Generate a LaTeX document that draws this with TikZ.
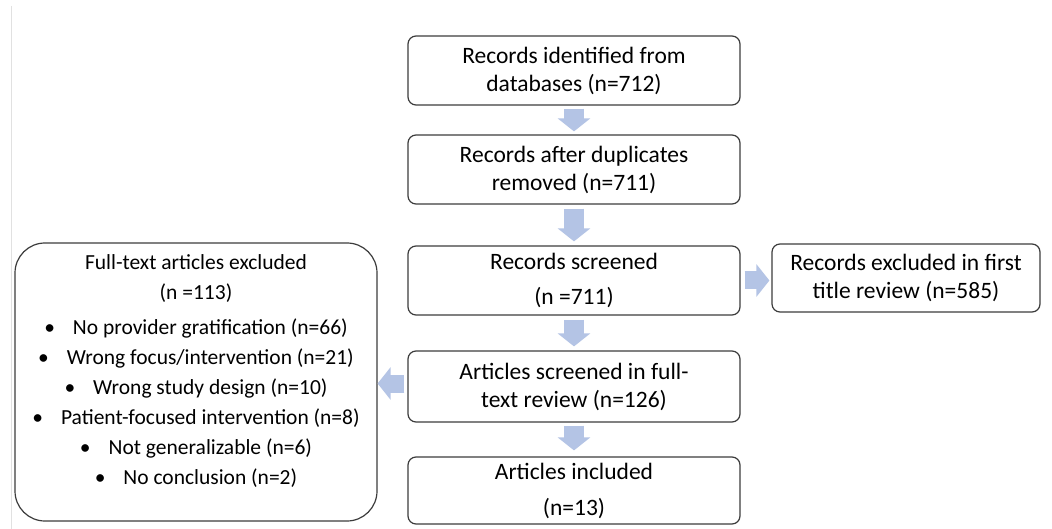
\documentclass[tikz,border=0pt]{standalone}
\usepackage{fontspec}
\setmainfont{Carlito}
\usetikzlibrary{arrows.meta,calc}
\definecolor{arrowblue}{RGB}{180,196,229}
\definecolor{boxline}{RGB}{60,60,60}
\definecolor{edgegray}{RGB}{225,225,225}
\tikzset{
  box/.style={draw=boxline, line width=1.2pt, rounded corners=8pt, fill=white,
    inner sep=0pt, align=center, font=\fontsize{23.5}{28}\selectfont},
  bigbox/.style={draw=boxline, line width=1.2pt, rounded corners=30pt, fill=white, inner sep=0pt},
  btext/.style={inner sep=0pt, align=center, font=\fontsize{21.5}{30}\selectfont},
  blockdown/.style={draw=arrowblue, line width=20pt,
    -{Triangle[length=13pt 0,width=32pt 0]}, shorten <=4pt, shorten >=4pt},
  blockside/.style={draw=arrowblue, line width=18pt,
    -{Triangle[length=13pt 0,width=32pt 0]}}
}
\begin{document}
\begin{tikzpicture}[x=1pt,y=-1pt]
\useasboundingbox (0,0) rectangle (1052,529);
\fill[white] (0,0) rectangle (1052,529);
\draw[edgegray, line width=1pt] (11,6) -- (11,529);

\node[box, minimum width=332pt, minimum height=69pt] (b1) at (574,70.5)
  {Records identified from\\databases (n=712)};
\node[box, minimum width=332pt, minimum height=69pt] (b2) at (574,169.5)
  {Records after duplicates\\removed (n=711)};
\node[box, minimum width=332pt, minimum height=69pt, font=\fontsize{23.5}{35}\selectfont] (b3) at (574,280.5)
  {Records screened\\(n =711)};
\node[box, minimum width=332pt, minimum height=71pt] (b4) at (574,386.5)
  {Articles screened in full-\\text review (n=126)};
\node[box, minimum width=332pt, minimum height=67pt, font=\fontsize{23.5}{36}\selectfont] (b5) at (574,490.5)
  {Articles included\\(n=13)};
\node[box, minimum width=268pt, minimum height=68pt] (rb) at (906,278)
  {Records excluded in first\\title review (n=585)};
\node[bigbox, minimum width=362pt, minimum height=278pt] (lb) at (196,382) {};
\node[btext] (lbt) at (196,371)
  {Full-text articles excluded\\
   (n =113)\\[5pt]
   •\hspace{18pt}No provider gratification (n=66)\\
   •\hspace{18pt}Wrong focus/intervention (n=21)\\
   •\hspace{18pt}Wrong study design (n=10)\\
   •\hspace{18pt}Patient-focused intervention (n=8)\\
   •\hspace{18pt}Not generalizable (n=6)\\
   •\hspace{18pt}No conclusion (n=2)};

\draw[blockdown, shorten <=3pt, shorten >=3pt] (b1.south) -- (b2.north);
\draw[blockdown] (b2.south) -- (b3.north);
\draw[blockdown] (b3.south) -- (b4.north);
\draw[blockdown, shorten <=3pt, shorten >=6pt] (b4.south) -- (b5.north);
\draw[blockside, shorten <=4pt, shorten >=2pt] (b3.east) -- (b3.east -| rb.west);
\draw[blockside, shorten <=3pt, shorten >=0pt] ($(b4.west)+(0,-3)$) -- ($(b4.west -| lb.east)+(0,-3)$);
\end{tikzpicture}
\end{document}
